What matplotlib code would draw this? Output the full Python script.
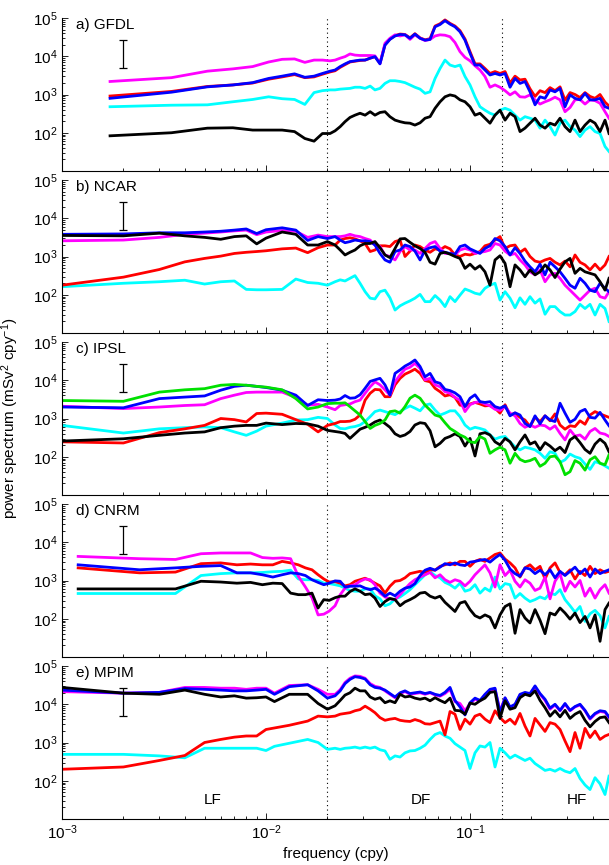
"""
Power spectra of five models (GFDL, NCAR, IPSL, CNRM, MPIM), stacked log-log panels.
Values were read off the reference figure as log10(power) in mSv^2 cpy^-1.
"""

import numpy as np
import matplotlib.pyplot as plt
from matplotlib.ticker import FixedLocator, LogLocator, NullFormatter

plt.rcParams["font.family"] = ["Liberation Sans", "DejaVu Sans"]
plt.rcParams["mathtext.fontset"] = "custom"
plt.rcParams["mathtext.rm"] = "Liberation Sans"
plt.rcParams["mathtext.it"] = "Liberation Sans:italic"
plt.rcParams["mathtext.bf"] = "Liberation Sans:bold"

# shared frequency grid above ~0.02 cpy
freq_high = [0.0218, 0.0231, 0.0244, 0.0258, 0.0273, 0.0289, 0.0306, 0.0324, 0.0342, 0.0362,
             0.0383, 0.0405, 0.0429, 0.0454, 0.0480, 0.0508, 0.0537, 0.0569, 0.0602, 0.0637,
             0.0674, 0.0713, 0.0754, 0.0798, 0.0844, 0.0893, 0.0945, 0.1000, 0.1058, 0.1119,
             0.1184, 0.1253, 0.1326, 0.1403, 0.1485, 0.1571, 0.1662, 0.1758, 0.1860, 0.1968,
             0.2083, 0.2204, 0.2332, 0.2467, 0.2610, 0.2762, 0.2922, 0.3092, 0.3271, 0.3461,
             0.3662, 0.3875, 0.4100, 0.4338, 0.4589, 0.4800]

# low-frequency harmonics, different record length per model
freq_gfdl_low = [0.00172, 0.00344, 0.00516, 0.00688, 0.0086, 0.0103, 0.0120, 0.0138, 0.0155,
                 0.0172, 0.0189, 0.0206]
freq_ncar_low = [0.001, 0.002, 0.003, 0.004, 0.005, 0.006, 0.007, 0.008, 0.009, 0.010,
                 0.012, 0.014, 0.016, 0.018, 0.020]
freq_ipsl_low = [0.001, 0.002, 0.003, 0.004, 0.005, 0.006, 0.007, 0.008, 0.009, 0.010,
                 0.012, 0.014, 0.016, 0.018, 0.020]
freq_cnrm_low = [0.0012, 0.0024, 0.0036, 0.0048, 0.0060, 0.0072, 0.0084, 0.0096, 0.0108,
                 0.0120, 0.0132, 0.0144, 0.0156, 0.0168, 0.0180, 0.0192, 0.0204]
freq_mpim_low = [0.001, 0.002, 0.003, 0.004, 0.005, 0.006, 0.007, 0.008, 0.009, 0.010,
                 0.011, 0.013, 0.016, 0.018, 0.020]

# ---- a) GFDL (log10 power) ----
gfdl_cyan = [2.68, 2.72, 2.73, 2.81, 2.87, 2.94, 2.89, 2.87, 2.74, 3.05, 3.10, 3.12,
             3.12, 3.14, 3.15, 3.16, 3.19, 3.19, 3.16, 3.22, 3.12, 3.16, 3.29, 3.36, 3.36, 3.34,
             3.31, 3.25, 3.19, 3.14, 3.03, 3.07, 3.42, 3.68, 3.90, 3.77, 3.73, 3.77, 3.47, 3.25,
             2.94, 2.68, 2.59, 2.51, 2.46, 2.59, 2.64, 2.59, 2.46, 2.33, 2.42, 2.38, 2.33, 2.12,
             2.33, 2.16, 1.94, 2.25, 2.33, 2.16, 2.07, 1.90, 2.07, 2.16, 2.03, 1.98, 1.64, 1.51]
gfdl_red = [2.96, 3.08, 3.21, 3.25, 3.30, 3.40, 3.46, 3.52, 3.44, 3.46, 3.53, 3.59,
            3.62, 3.71, 3.78, 3.85, 3.87, 3.89, 3.90, 3.95, 3.99, 3.82, 4.30, 4.45, 4.54, 4.58,
            4.57, 4.48, 4.59, 4.48, 4.43, 4.46, 4.79, 4.85, 4.95, 4.86, 4.79, 4.67, 4.45, 4.12,
            3.80, 3.80, 3.68, 3.55, 3.60, 3.55, 3.60, 3.30, 3.48, 3.38, 3.40, 3.15, 2.95, 3.10,
            3.05, 3.18, 3.10, 3.20, 2.85, 3.05, 3.00, 2.92, 3.05, 2.95, 2.90, 3.00, 2.80, 2.70]
gfdl_magenta = [3.34, 3.44, 3.61, 3.67, 3.73, 3.85, 3.92, 3.93, 3.84, 3.90, 3.90, 3.88,
                3.90, 3.95, 3.99, 4.06, 4.03, 4.02, 4.02, 4.02, 4.01, 3.81, 4.34, 4.47, 4.56, 4.53,
                4.56, 4.44, 4.56, 4.47, 4.41, 4.44, 4.53, 4.56, 4.55, 4.51, 4.36, 4.12, 3.97, 3.88,
                3.75, 3.64, 3.47, 3.19, 3.25, 3.19, 3.10, 2.99, 3.07, 2.94, 2.93, 2.99, 2.86, 2.75,
                2.81, 2.86, 2.93, 2.86, 2.55, 2.66, 2.86, 2.87, 2.75, 2.86, 2.84, 2.77, 2.55, 2.38]
gfdl_blue = [2.90, 3.06, 3.20, 3.25, 3.31, 3.42, 3.48, 3.54, 3.45, 3.48, 3.55, 3.61,
             3.64, 3.73, 3.80, 3.86, 3.88, 3.90, 3.90, 3.95, 3.99, 3.80, 4.29, 4.44, 4.53, 4.57,
             4.56, 4.47, 4.58, 4.47, 4.42, 4.44, 4.77, 4.83, 4.93, 4.84, 4.77, 4.64, 4.42, 4.08,
             3.77, 3.77, 3.64, 3.51, 3.55, 3.51, 3.55, 3.19, 3.42, 3.29, 3.34, 3.07, 2.73, 2.94,
             2.90, 3.12, 3.07, 3.16, 2.68, 2.99, 2.90, 2.86, 3.03, 2.86, 2.86, 2.90, 2.68, 2.64]
gfdl_black = [1.92, 2.00, 2.12, 2.13, 2.07, 2.07, 2.07, 2.03, 1.85, 1.78, 1.98, 1.98,
              2.05, 2.16, 2.29, 2.40, 2.46, 2.51, 2.46, 2.55, 2.46, 2.53, 2.55, 2.42, 2.33, 2.29,
              2.26, 2.25, 2.20, 2.26, 2.38, 2.42, 2.64, 2.81, 2.94, 2.99, 2.96, 2.86, 2.81, 2.68,
              2.46, 2.51, 2.38, 2.25, 2.46, 2.59, 2.33, 2.51, 2.42, 2.03, 2.12, 2.25, 2.38, 2.20,
              2.12, 2.25, 2.20, 2.38, 2.16, 2.03, 2.33, 2.03, 2.20, 2.33, 2.25, 2.03, 2.33, 1.98]

# ---- b) NCAR ----
ncar_cyan = [2.21, 2.30, 2.34, 2.38, 2.28, 2.34, 2.36, 2.14, 2.13, 2.13, 2.14, 2.41, 2.32, 2.30, 2.25,
             2.34, 2.39, 2.36, 2.43, 2.50, 2.30, 2.08, 1.91, 1.89, 2.08, 2.12, 1.92, 1.60, 1.71,
             1.78, 1.84, 1.91, 2.01, 1.82, 1.82, 1.98, 1.86, 1.69, 1.95, 1.82, 1.99, 2.15, 2.10,
             2.04, 2.01, 2.17, 2.25, 2.30, 1.86, 2.08, 1.91, 1.66, 1.92, 1.75, 1.95, 1.78, 1.89,
             1.49, 1.69, 1.69, 1.56, 1.47, 1.47, 1.56, 1.75, 1.64, 1.75, 1.47, 1.75, 1.64, 1.30]
ncar_red = [2.25, 2.46, 2.66, 2.86, 2.95, 3.01, 3.08, 3.11, 3.13, 3.15, 3.20, 3.22, 3.10, 3.23, 3.30,
            3.30, 3.43, 3.47, 3.49, 3.46, 3.41, 3.34, 3.13, 3.17, 3.28, 3.28, 3.26, 3.39, 3.43,
            3.00, 3.14, 3.30, 3.26, 3.17, 3.11, 3.20, 3.17, 3.26, 3.20, 3.04, 3.00, 3.06, 3.04,
            3.08, 3.13, 3.28, 3.32, 3.43, 3.52, 3.21, 3.28, 3.30, 3.11, 3.20, 3.00, 2.88, 2.85,
            2.91, 2.95, 2.85, 2.78, 2.88, 2.73, 3.04, 2.85, 2.78, 2.65, 2.80, 2.65, 2.78, 3.00]
ncar_magenta = [3.41, 3.43, 3.50, 3.58, 3.61, 3.64, 3.67, 3.69, 3.57, 3.64, 3.68, 3.66, 3.50, 3.56, 3.52,
                3.52, 3.52, 3.54, 3.58, 3.54, 3.52, 3.47, 3.43, 3.30, 3.26, 3.04, 3.00, 2.91, 3.13,
                3.26, 3.17, 3.17, 3.08, 3.21, 3.34, 3.39, 3.21, 3.08, 3.08, 3.04, 3.17, 3.21, 3.17,
                3.08, 3.11, 3.13, 3.17, 3.34, 3.30, 3.14, 3.04, 3.08, 2.91, 2.78, 2.60, 2.52, 2.65,
                2.34, 2.52, 2.56, 2.43, 2.25, 2.12, 1.99, 1.86, 1.99, 2.12, 2.17, 1.95, 1.91, 2.08]
ncar_blue = [3.58, 3.59, 3.62, 3.62, 3.64, 3.66, 3.69, 3.72, 3.60, 3.70, 3.75, 3.69, 3.42, 3.52, 3.47,
             3.52, 3.43, 3.36, 3.39, 3.43, 3.41, 3.41, 3.39, 3.30, 3.08, 2.91, 2.85, 3.13, 3.17,
             3.30, 3.26, 3.14, 2.91, 3.17, 3.23, 3.26, 3.14, 3.11, 3.08, 3.06, 3.26, 3.30, 3.20,
             3.14, 3.08, 3.21, 3.28, 3.47, 3.41, 3.26, 3.04, 3.23, 3.08, 2.88, 2.73, 2.60, 2.80,
             2.52, 2.85, 2.73, 2.60, 2.43, 2.25, 2.17, 2.43, 2.30, 2.12, 2.08, 2.30, 2.17, 2.08]
ncar_black = [3.55, 3.54, 3.61, 3.54, 3.50, 3.45, 3.52, 3.54, 3.33, 3.48, 3.64, 3.58, 3.30, 3.30, 3.39,
              3.30, 3.17, 3.04, 3.11, 3.17, 3.28, 3.34, 3.34, 3.39, 3.23, 3.04, 2.97, 3.21, 3.46,
              3.47, 3.37, 3.28, 3.21, 3.11, 2.85, 2.80, 3.08, 3.11, 3.06, 3.00, 2.95, 2.69, 2.80,
              2.67, 2.76, 2.60, 2.25, 2.91, 3.02, 2.82, 2.21, 2.78, 2.65, 2.47, 2.65, 2.52, 2.60,
              2.78, 2.65, 2.45, 2.67, 2.86, 2.95, 2.56, 2.69, 2.60, 2.56, 2.52, 2.34, 2.12, 2.43]

# ---- c) IPSL ----
ipsl_cyan = [2.82, 2.62, 2.73, 2.76, 2.78, 2.76, 2.65, 2.56, 2.67, 2.80, 2.88, 2.96, 2.97, 3.03, 3.00,
             2.83, 2.74, 2.73, 2.77, 2.79, 2.83, 2.92, 3.05, 3.18, 3.22, 3.18, 3.14, 3.10, 3.18,
             3.26, 3.33, 3.27, 3.20, 3.35, 3.38, 3.22, 3.09, 3.14, 3.20, 3.20, 3.05, 2.83, 2.72,
             2.77, 2.74, 2.70, 2.57, 2.46, 2.51, 2.53, 2.39, 2.26, 2.18, 2.25, 2.22, 2.18, 2.09,
             1.96, 2.13, 2.09, 1.85, 1.92, 2.07, 2.00, 1.96, 1.81, 1.67, 1.87, 1.83, 1.76, 1.70]
ipsl_red = [2.39, 2.36, 2.63, 2.73, 2.82, 3.00, 2.97, 2.91, 3.13, 3.14, 3.11, 2.97, 2.85, 2.65, 2.82,
            2.87, 2.92, 2.92, 2.93, 2.98, 3.09, 3.48, 3.66, 3.76, 3.75, 3.57, 3.57, 3.88, 4.05,
            4.16, 4.22, 4.29, 4.18, 3.99, 3.96, 3.79, 3.70, 3.59, 3.62, 3.55, 3.35, 3.33, 3.38,
            3.42, 3.38, 3.33, 3.34, 3.27, 3.14, 3.36, 3.09, 3.14, 3.03, 2.96, 2.79, 3.03, 2.92,
            3.07, 2.94, 3.12, 2.83, 2.72, 2.81, 2.79, 2.94, 2.85, 3.09, 3.18, 3.12, 3.07, 3.03]
ipsl_magenta = [3.32, 3.26, 3.30, 3.34, 3.36, 3.52, 3.61, 3.68, 3.69, 3.69, 3.69, 3.55, 3.35, 3.37, 3.30,
                3.23, 3.34, 3.36, 3.38, 3.44, 3.48, 3.66, 3.83, 3.96, 3.88, 3.75, 3.61, 3.96, 4.14,
                4.29, 4.34, 4.44, 4.31, 4.01, 4.05, 3.88, 3.83, 3.70, 3.66, 3.55, 3.48, 3.18, 3.36,
                3.42, 3.44, 3.38, 3.33, 3.24, 3.21, 3.31, 3.14, 3.07, 2.87, 2.77, 2.83, 2.77, 2.83,
                2.81, 2.72, 2.81, 2.61, 2.44, 2.70, 2.54, 2.57, 2.46, 2.66, 2.74, 2.62, 2.59, 2.53]
ipsl_blue = [3.30, 3.28, 3.52, 3.56, 3.59, 3.74, 3.84, 3.87, 3.84, 3.81, 3.74, 3.61, 3.34, 3.49, 3.47,
             3.48, 3.51, 3.60, 3.53, 3.54, 3.62, 3.79, 3.97, 4.01, 4.05, 3.88, 3.61, 4.18, 4.27,
             4.37, 4.44, 4.53, 4.36, 4.09, 4.18, 3.96, 3.92, 3.76, 3.73, 3.67, 3.57, 3.31, 3.53,
             3.62, 3.44, 3.42, 3.44, 3.31, 3.27, 3.33, 3.07, 3.15, 3.09, 2.87, 2.79, 3.07, 2.86,
             3.07, 2.96, 2.92, 3.40, 3.14, 2.90, 2.98, 3.18, 3.24, 3.03, 3.01, 3.16, 2.96, 2.81]
ipsl_black = [2.41, 2.47, 2.56, 2.62, 2.65, 2.76, 2.80, 2.82, 2.82, 2.88, 2.84, 2.87, 2.86, 2.80, 2.69,
              2.66, 2.64, 2.61, 2.48, 2.60, 2.72, 2.77, 2.83, 2.91, 2.96, 2.87, 2.77, 2.60, 2.53,
              2.57, 2.66, 2.83, 2.89, 2.87, 2.68, 2.26, 2.35, 2.48, 2.53, 2.60, 2.53, 2.28, 2.48,
              2.02, 2.60, 2.63, 2.57, 2.39, 2.31, 2.48, 2.39, 2.18, 2.39, 2.57, 2.33, 2.39, 2.18,
              2.37, 2.28, 2.16, 2.25, 2.11, 2.44, 2.53, 2.37, 2.19, 2.09, 2.33, 2.46, 2.35, 2.13]
ipsl_green = [3.47, 3.45, 3.69, 3.75, 3.78, 3.87, 3.89, 3.87, 3.84, 3.82, 3.75, 3.52, 3.25, 3.30, 3.39,
              3.40, 3.40, 3.41, 3.31, 3.20, 3.09, 2.92, 2.74, 2.82, 2.87, 2.96, 3.18, 3.20, 3.14,
              3.31, 3.53, 3.61, 3.53, 3.35, 3.22, 3.09, 3.05, 2.89, 2.74, 2.66, 2.57, 2.51, 2.39,
              2.37, 2.53, 2.46, 2.09, 2.18, 2.25, 2.18, 1.83, 2.09, 1.93, 1.87, 1.90, 1.96, 1.75,
              1.83, 2.00, 2.02, 1.87, 1.53, 1.61, 1.90, 1.83, 1.65, 1.92, 2.00, 1.83, 1.79, 2.05]

# ---- d) CNRM ----
cnrm_cyan = [2.66, 2.66, 2.66, 3.13, 3.18, 3.20, 3.20, 3.21, 3.23, 3.24, 3.27, 3.04, 3.02, 3.02, 3.00,
             2.93, 2.92,
             2.89, 2.86, 2.80, 2.74, 2.72, 2.72, 2.78, 2.78, 2.60, 2.52, 2.34, 2.39, 2.52, 2.57,
             2.66, 2.76, 2.89, 3.02, 3.15, 3.23, 3.13, 3.07, 2.95, 2.89, 2.80, 2.93, 2.72, 2.76,
             2.89, 2.67, 2.80, 2.72, 3.09, 2.78, 2.92, 2.89, 2.54, 2.66, 2.54, 2.45, 2.50, 2.57,
             2.52, 2.67, 2.63, 2.76, 2.50, 2.34, 2.17, 2.32, 1.93, 2.13, 2.22, 2.08, 1.76, 2.06]
cnrm_red = [3.33, 3.20, 3.22, 3.44, 3.46, 3.41, 3.43, 3.41, 3.41, 3.50, 3.46, 3.41, 3.33, 3.28, 3.15,
            3.04, 2.96,
            2.97, 2.93, 2.86, 2.89, 2.98, 3.02, 3.06, 3.00, 2.93, 2.86, 2.67, 2.85, 2.98, 3.00,
            3.07, 3.18, 3.21, 3.24, 3.21, 3.28, 3.27, 3.37, 3.41, 3.46, 3.41, 3.50, 3.50, 3.37,
            3.50, 3.55, 3.50, 3.59, 3.68, 3.72, 3.56, 3.46, 3.33, 3.09, 3.33, 3.41, 3.28, 3.37,
            3.04, 3.33, 3.46, 3.21, 3.15, 3.28, 3.04, 3.24, 3.13, 3.37, 3.18, 3.28, 3.21, 3.24]
cnrm_magenta = [3.63, 3.57, 3.55, 3.70, 3.72, 3.72, 3.72, 3.60, 3.58, 3.59, 3.57, 3.11, 2.83, 2.55,
                2.10, 2.12, 2.20,
                2.34, 2.63, 2.80, 2.86, 2.89, 2.98, 3.04, 3.02, 2.89, 2.67, 2.57, 2.52, 2.50, 2.63,
                2.78, 2.92, 3.02, 3.09, 3.15, 3.21, 3.07, 3.15, 3.02, 2.95, 3.02, 2.98, 2.86, 2.98,
                3.15, 3.28, 3.41, 3.20, 2.83, 3.41, 3.13, 3.27, 2.98, 2.83, 3.02, 2.93, 2.74, 2.80,
                3.09, 2.52, 2.98, 3.18, 2.72, 2.98, 2.83, 3.00, 2.59, 2.80, 2.54, 2.76, 2.89, 2.67]
cnrm_blue = [3.41, 3.28, 3.33, 3.37, 3.39, 3.20, 3.20, 3.15, 3.09, 3.15, 3.20, 3.18, 3.13, 3.02, 2.95,
             2.89, 2.93,
             2.99, 2.98, 2.83, 2.85, 2.85, 2.86, 2.80, 2.76, 2.80, 2.72, 2.59, 2.67, 2.60, 2.72,
             2.80, 2.83, 2.92, 3.13, 3.27, 3.32, 3.27, 3.35, 3.44, 3.41, 3.46, 3.41, 3.39, 3.48,
             3.50, 3.53, 3.55, 3.48, 3.59, 3.68, 3.53, 3.30, 3.18, 3.11, 3.33, 3.30, 3.18, 3.27,
             3.15, 3.28, 3.07, 3.24, 3.13, 3.24, 3.35, 3.18, 3.30, 3.09, 3.30, 3.18, 3.24, 3.28]
cnrm_black = [2.78, 2.78, 2.78, 2.98, 2.96, 2.93, 2.95, 2.89, 2.93, 2.92, 2.67, 2.63, 2.63, 2.67, 2.28,
              2.50, 2.48,
              2.55, 2.59, 2.59, 2.71, 2.78, 2.72, 2.63, 2.65, 2.54, 2.32, 2.45, 2.53, 2.50, 2.34,
              2.44, 2.50, 2.57, 2.67, 2.69, 2.59, 2.54, 2.59, 2.43, 2.31, 2.19, 2.41, 2.45, 2.24,
              2.08, 2.02, 2.10, 2.04, 1.76, 2.10, 2.32, 2.39, 1.62, 2.24, 2.02, 1.89, 2.24, 1.96,
              1.61, 2.15, 2.10, 2.28, 2.15, 1.99, 2.15, 1.90, 2.06, 1.76, 2.10, 1.41, 2.24, 2.41]

# ---- e) MPIM ----
mpim_cyan = [2.69, 2.69, 2.65, 2.60, 2.85, 2.85, 2.85, 2.85, 2.85, 2.79, 2.90, 2.98, 3.08, 3.00, 2.82,
             2.85, 2.82, 2.85, 2.86, 2.88, 2.85, 2.88, 2.85, 2.88, 2.81, 2.78, 2.56, 2.65, 2.62,
             2.73, 2.78, 2.79, 2.85, 2.93, 3.08, 3.21, 3.26, 3.17, 3.11, 2.97, 2.88, 2.79, 2.32,
             2.73, 2.91, 2.88, 3.00, 2.36, 2.85, 2.73, 2.59, 2.67, 2.60, 2.53, 2.59, 2.45, 2.36,
             2.27, 2.30, 2.25, 2.32, 2.25, 2.21, 2.32, 2.06, 1.89, 1.77, 2.08, 1.92, 1.64, 2.12]
mpim_red = [2.30, 2.36, 2.53, 2.66, 3.00, 3.08, 3.14, 3.17, 3.17, 3.34, 3.38, 3.45, 3.56, 3.69, 3.67,
            3.69, 3.74, 3.76, 3.78, 3.83, 3.86, 3.95, 3.87, 3.78, 3.65, 3.58, 3.61, 3.63, 3.58,
            3.56, 3.55, 3.60, 3.56, 3.49, 3.48, 3.52, 3.56, 3.20, 3.81, 3.74, 3.34, 3.61, 3.48,
            3.69, 3.74, 3.61, 3.52, 3.83, 3.65, 3.52, 3.61, 3.48, 3.76, 3.43, 3.17, 3.63, 3.46,
            3.29, 3.52, 3.48, 3.34, 3.04, 2.76, 3.26, 2.85, 3.37, 3.13, 3.30, 3.08, 3.17, 3.21]
mpim_magenta = [4.33, 4.29, 4.31, 4.44, 4.44, 4.42, 4.42, 4.39, 4.42, 4.42, 4.29, 4.49, 4.51, 4.39, 4.26,
                4.26, 4.38, 4.57, 4.68, 4.74, 4.73, 4.68, 4.54, 4.47, 4.44, 4.35, 4.26, 4.17, 4.28,
                4.33, 4.26, 4.28, 4.30, 4.26, 4.30, 4.24, 4.21, 4.28, 4.39, 4.07, 4.02, 3.83, 4.02,
                4.13, 4.09, 4.24, 4.37, 4.39, 3.83, 4.16, 3.91, 3.98, 4.24, 4.28, 4.26, 4.45, 4.26,
                4.10, 3.87, 3.98, 3.83, 4.00, 3.83, 3.93, 3.98, 3.83, 3.61, 3.74, 3.81, 3.79, 3.65]
mpim_blue = [4.37, 4.29, 4.31, 4.41, 4.39, 4.37, 4.35, 4.35, 4.37, 4.39, 4.26, 4.46, 4.51, 4.35, 4.16,
             4.22, 4.35, 4.54, 4.65, 4.72, 4.70, 4.66, 4.51, 4.44, 4.42, 4.37, 4.28, 4.19, 4.30,
             4.35, 4.28, 4.30, 4.32, 4.28, 4.31, 4.26, 4.23, 4.31, 4.44, 4.10, 3.93, 3.72, 4.04,
             4.16, 4.10, 4.26, 4.39, 4.42, 3.78, 4.17, 3.93, 4.00, 4.26, 4.31, 4.28, 4.48, 4.28,
             4.13, 3.90, 4.00, 3.84, 4.02, 3.84, 3.94, 4.00, 3.84, 3.63, 3.76, 3.83, 3.81, 3.67]
mpim_black = [4.44, 4.29, 4.26, 4.37, 4.26, 4.19, 4.22, 4.16, 4.17, 4.19, 4.07, 4.26, 4.26, 4.02, 3.87,
              3.96, 4.10, 4.24, 4.30, 4.42, 4.35, 4.35, 4.19, 4.13, 4.17, 4.04, 4.09, 4.04, 4.26,
              4.19, 4.21, 4.16, 4.13, 4.16, 4.09, 4.17, 4.10, 4.04, 4.16, 3.84, 3.83, 3.74, 4.03,
              4.00, 4.09, 4.16, 4.31, 4.33, 3.63, 4.09, 3.87, 3.91, 4.17, 4.26, 4.22, 4.35, 4.10,
              3.91, 3.69, 3.83, 3.67, 3.84, 3.63, 3.74, 3.81, 3.58, 3.41, 3.55, 3.65, 3.67, 3.52]

# uncertainty bar drawn in every panel
errbar_freq = 0.002
errbar_low = 5.0e3
errbar_high = 2.6e4

band_edges = [1 / 50, 1 / 7]
band_labels = ["LF", "DF", "HF"]
band_label_freq = [0.0055, 0.0575, 0.335]

COLORS = {"cyan": "#00ffff", "red": "#ff0000", "magenta": "#ff00ff",
          "blue": "#0000ff", "black": "#000000", "green": "#00e000"}


def build_panels():
    """Collect per-panel frequency grid and series (drawing order matters)."""
    return [
        ("a) GFDL", freq_gfdl_low, [("cyan", gfdl_cyan), ("red", gfdl_red),
                                    ("magenta", gfdl_magenta), ("blue", gfdl_blue),
                                    ("black", gfdl_black)]),
        ("b) NCAR", freq_ncar_low, [("cyan", ncar_cyan), ("red", ncar_red),
                                    ("magenta", ncar_magenta), ("blue", ncar_blue),
                                    ("black", ncar_black)]),
        ("c) IPSL", freq_ipsl_low, [("cyan", ipsl_cyan), ("red", ipsl_red),
                                    ("magenta", ipsl_magenta), ("blue", ipsl_blue),
                                    ("black", ipsl_black), ("green", ipsl_green)]),
        ("d) CNRM", freq_cnrm_low, [("cyan", cnrm_cyan), ("red", cnrm_red),
                                    ("magenta", cnrm_magenta), ("blue", cnrm_blue),
                                    ("black", cnrm_black)]),
        ("e) MPIM", freq_mpim_low, [("cyan", mpim_cyan), ("red", mpim_red),
                                    ("magenta", mpim_magenta), ("blue", mpim_blue),
                                    ("black", mpim_black)]),
    ]


def style_axis(ax, show_xlabels):
    ax.set_xscale("log")
    ax.set_yscale("log")
    ax.set_xlim(1e-3, 0.48)
    ax.set_ylim(10, 1e5)
    ax.spines["top"].set_visible(False)
    ax.spines["right"].set_visible(False)
    for s in ("left", "bottom"):
        ax.spines[s].set_linewidth(0.8)
    ax.yaxis.set_major_locator(FixedLocator([1e2, 1e3, 1e4, 1e5]))
    ax.yaxis.set_minor_locator(LogLocator(base=10, subs=np.arange(2, 10)))
    ax.yaxis.set_minor_formatter(NullFormatter())
    ax.xaxis.set_major_locator(FixedLocator([1e-3, 1e-2, 1e-1]))
    ax.xaxis.set_minor_locator(LogLocator(base=10, subs=np.arange(2, 10)))
    ax.xaxis.set_minor_formatter(NullFormatter())
    ax.tick_params(which="both", direction="in", top=False, right=False,
                   labelsize=11, width=0.6)
    ax.tick_params(which="major", length=4)
    ax.tick_params(which="minor", length=2)
    if not show_xlabels:
        ax.tick_params(axis="x", labelbottom=False)


def main() -> None:
    fig = plt.figure(figsize=(6.09, 8.65), dpi=100)
    left, width, height = 62 / 609, 547 / 609, 153 / 865
    tops_px = [18, 180, 342, 504, 666]

    panels = build_panels()
    for i, (label, freq_low, series) in enumerate(panels):
        bottom = 1 - (tops_px[i] + 153) / 865
        ax = fig.add_axes([left, bottom, width, height])
        freq = np.array(freq_low + freq_high)

        for edge in band_edges:
            ax.axvline(edge, color="k", lw=0.8, linestyle=(0, (1, 3)), zorder=1)

        for cname, logvals in series:
            ax.plot(freq, np.power(10.0, np.array(logvals)), color=COLORS[cname],
                    lw=2.0, solid_joinstyle="round", zorder=2)

        mid = np.sqrt(errbar_low * errbar_high)
        ax.errorbar([errbar_freq], [mid], yerr=[[mid - errbar_low], [errbar_high - mid]],
                    fmt="none", ecolor="k", elinewidth=0.9, capsize=3, capthick=0.9,
                    zorder=3)

        ax.text(0.025, 0.951, label, transform=ax.transAxes, ha="left", va="center",
                fontsize=11)

        style_axis(ax, show_xlabels=(i == len(panels) - 1))

        if i == len(panels) - 1:
            for f, txt in zip(band_label_freq, band_labels):
                ax.text(f, 31.6, txt, ha="center", va="center", fontsize=11)

    fig.text(0.017, 0.517, r"power spectrum (mSv$^2$ cpy$^{-1}$)", rotation=90,
             ha="center", va="center", fontsize=11)
    fig.text(0.552, 0.013, "frequency (cpy)", ha="center", va="center", fontsize=11)

    fig.savefig("out.png", dpi=100)


if __name__ == "__main__":
    main()
